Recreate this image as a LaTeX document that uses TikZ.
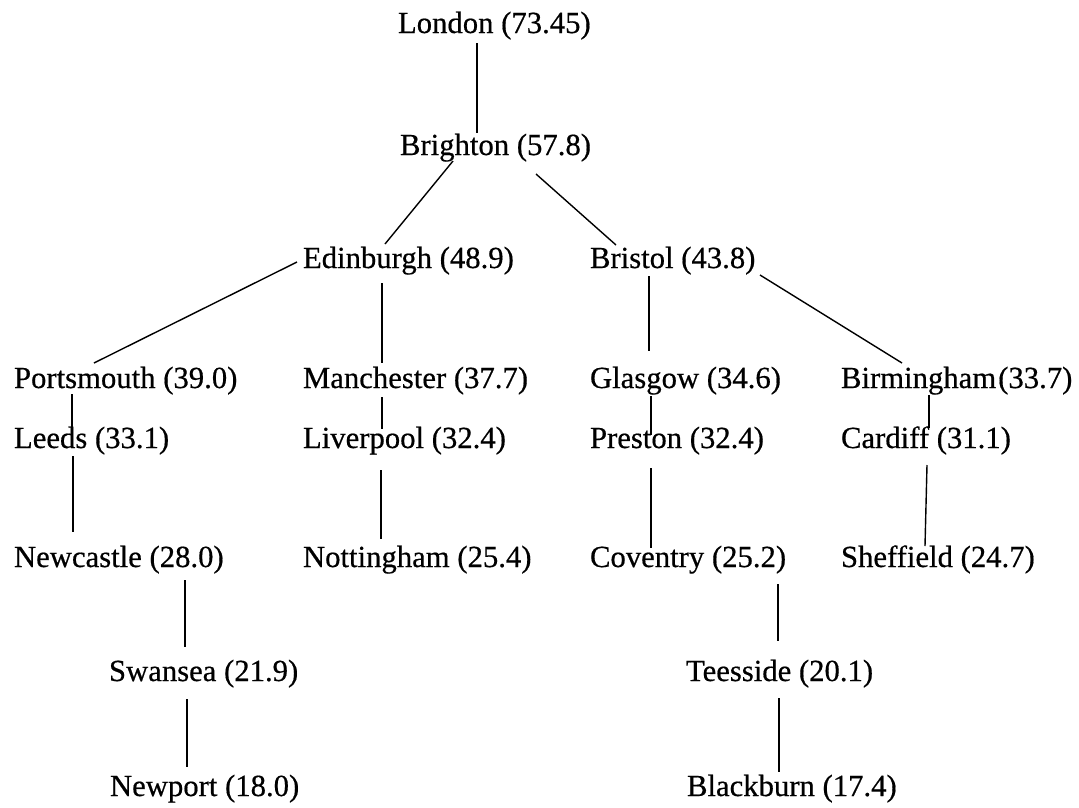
\documentclass[tikz,border=0pt]{standalone}
\usepackage{fontspec}
\setmainfont{Liberation Serif}
\newfontfamily\cityfont[FakeBold=0.5]{Liberation Serif}
\begin{document}
\begin{tikzpicture}[x=1pt,y=-1pt,
  city/.style={anchor=base west,inner sep=0pt,outer sep=0pt,font=\cityfont\fontsize{30.7}{36}\selectfont},
  link/.style={line width=1.4pt,black}]
\useasboundingbox[fill=white] (0,0) rectangle (1079,807);
% nodes
\node[city] (london)     at (398,33)  {London (73.45)};
\node[city] (brighton)   at (400,155) {Brighton (57.8)};
\node[city] (edinburgh)  at (303,268) {Edinburgh (48.9)};
\node[city] (bristol)    at (590,268) {Bristol (43.8)};
\node[city] (portsmouth) at (14,388)  {Portsmouth (39.0)};
\node[city] (manchester) at (303,388) {Manchester (37.7)};
\node[city] (glasgow)    at (590,388) {Glasgow (34.6)};
\node[city] (birmingham) at (841,388) {Birmingham\kern2pt(33.7)};
\node[city] (leeds)      at (14,448)  {Leeds (33.1)};
\node[city] (liverpool)  at (303,448) {Liverpool (32.4)};
\node[city] (preston)    at (590,448) {Preston (32.4)};
\node[city] (cardiff)    at (841,448) {Cardiff (31.1)};
\node[city] (newcastle)  at (14,567)  {Newcastle (28.0)};
\node[city] (nottingham) at (303,567) {Nottingham (25.4)};
\node[city] (coventry)   at (590,567) {Coventry (25.2)};
\node[city] (sheffield)  at (841,567) {Sheffield (24.7)};
\node[city] (swansea)    at (109,681) {Swansea (21.9)};
\node[city] (teesside)   at (686,681) {Teesside (20.1)};
\node[city] (newport)    at (110,796) {Newport (18.0)};
\node[city] (blackburn)  at (687,796) {Blackburn (17.4)};
% connectors
\draw[link] ([shift={(79,10)}]london.base west) -- ([shift={(77,-22)}]brighton.base west);
\draw[link] ([shift={(53,6)}]brighton.base west) -- ([shift={(82,-24)}]edinburgh.base west);
\draw[link] ([shift={(136,19)}]brighton.base west) -- ([shift={(26,-23)}]bristol.base west);
\draw[link] ([shift={(-6,-6)}]edinburgh.base west) -- ([shift={(80,-25)}]portsmouth.base west);
\draw[link] ([shift={(79,15)}]edinburgh.base west) -- ([shift={(79,-25)}]manchester.base west);
\draw[link] ([shift={(79,9)}]manchester.base west) -- ([shift={(79,-19)}]liverpool.base west);
\draw[link] ([shift={(78,22)}]liverpool.base west) -- ([shift={(78,-28)}]nottingham.base west);
\draw[link] ([shift={(58,6)}]portsmouth.base west) -- ([shift={(58,-21)}]leeds.base west);
\draw[link] ([shift={(59,8)}]leeds.base west) -- ([shift={(59,-35)}]newcastle.base west);
\draw[link] ([shift={(171,13)}]newcastle.base west) -- ([shift={(76,-34)}]swansea.base west);
\draw[link] ([shift={(78,18)}]swansea.base west) -- ([shift={(77,-29)}]newport.base west);
\draw[link] ([shift={(59,8)}]bristol.base west) -- ([shift={(59,-37)}]glasgow.base west);
\draw[link] ([shift={(61,8)}]glasgow.base west) -- ([shift={(61,-13)}]preston.base west);
\draw[link] ([shift={(61,20)}]preston.base west) -- ([shift={(61,-19)}]coventry.base west);
\draw[link] ([shift={(170,7)}]bristol.base west) -- ([shift={(61,-25)}]birmingham.base west);
\draw[link] ([shift={(88,7)}]birmingham.base west) -- ([shift={(88,-20)}]cardiff.base west);
\draw[link] ([shift={(86,17)}]cardiff.base west) -- ([shift={(84,-21)}]sheffield.base west);
\draw[link] ([shift={(188,17)}]coventry.base west) -- ([shift={(92,-40)}]teesside.base west);
\draw[link] ([shift={(93,17)}]teesside.base west) -- ([shift={(92,-24)}]blackburn.base west);
\end{tikzpicture}
\end{document}
